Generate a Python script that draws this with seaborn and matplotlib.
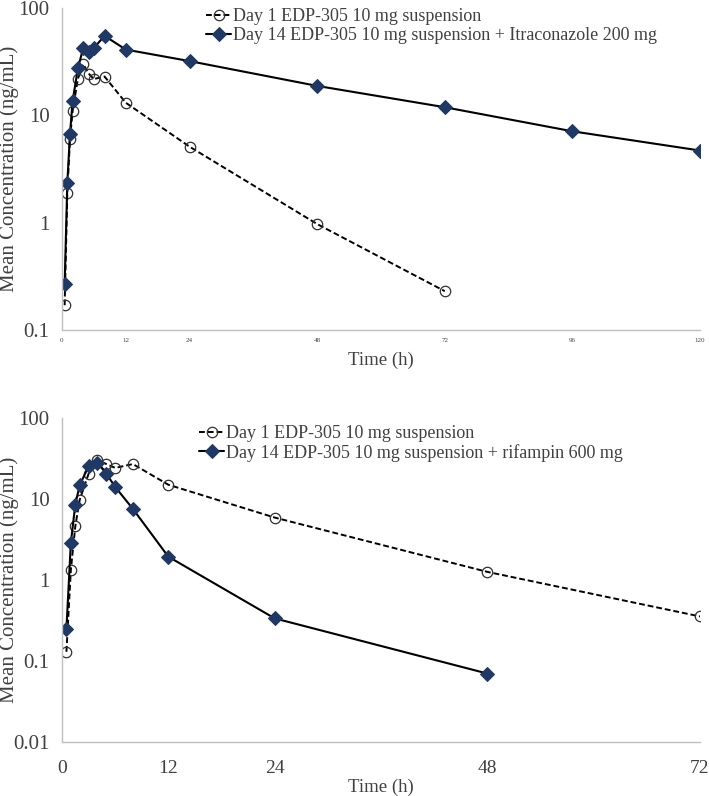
# Perfil PK de EDP-305: itraconazol (arriba) y rifampicina (abajo)
import matplotlib
matplotlib.use("Agg")
import matplotlib.pyplot as plt
import seaborn as sns
import numpy as np

# Datos -----------------------------------------------------
t_dia1_itra = [0.5, 1, 1.5, 2, 3, 4, 5, 6, 8, 12, 24, 48, 72]
c_dia1_itra = [0.17, 1.9, 6.0, 11, 22, 30, 24.5, 21.8, 23, 13.1, 5.1, 0.97, 0.23]

t_dia14_itra = [0.5, 1, 1.5, 2, 3, 4, 5, 6, 8, 12, 24, 48, 72, 96, 120]
c_dia14_itra = [0.27, 2.35, 6.7, 13.6, 27.5, 42.5, 39, 42.5, 55, 41, 32, 18.8, 11.9, 7.1, 4.7]

t_dia1_rif = [0.5, 1, 1.5, 2, 3, 4, 5, 6, 8, 12, 24, 48, 72]
c_dia1_rif = [0.13, 1.33, 4.6, 9.8, 20.5, 30.5, 27, 24.2, 27, 15, 5.9, 1.26, 0.355]

t_dia14_rif = [0.5, 1, 1.5, 2, 3, 4, 5, 6, 8, 12, 24, 48]
c_dia14_rif = [0.25, 2.9, 8.5, 14.9, 25.3, 27.9, 20.6, 14.1, 7.55, 1.94, 0.336, 0.07]

lbl_dia1 = "Day 1 EDP-305 10 mg suspension"
lbl_itra = "Day 14 EDP-305 10 mg suspension + Itraconazole 200 mg"
lbl_rif = "Day 14 EDP-305 10 mg suspension + rifampin 600 mg"

sns.set_style("white")
plt.rcParams['font.family'] = ['Liberation Serif', 'DejaVu Serif']

gris_eje = "#BFBFBF"
gris_txt = "#404040"
azul = "#1F3864"

fig = plt.figure(figsize=(7.09, 7.96), dpi=100)
ax1 = fig.add_axes([62/709, 1-330/796, 638/709, 322/796])
ax2 = fig.add_axes([62/709, 1-742/796, 638/709, 324/796])


def graficar(ax, t1, c1, t14, c14, lbl14):
    sns.lineplot(x=t1, y=c1, ax=ax, color="black", linestyle=(0, (3, 1.5)),
                 linewidth=1.4, marker="o", markersize=7.5,
                 markerfacecolor="none", markeredgecolor="#303030",
                 markeredgewidth=0.9, label=lbl_dia1)
    sns.lineplot(x=t14, y=c14, ax=ax, color="black", linewidth=1.5,
                 marker="D", markersize=7.5, markerfacecolor=azul,
                 markeredgecolor=azul, label=lbl14)
    ax.set_yscale("log")
    for s in ["top", "right"]:
        ax.spines[s].set_visible(False)
    for s in ["left", "bottom"]:
        ax.spines[s].set_color(gris_eje)
        ax.spines[s].set_linewidth(1.0)
    ax.yaxis.set_minor_locator(matplotlib.ticker.NullLocator())
    ax.tick_params(axis="y", which="major", direction="out", length=5,
                   color=gris_eje, labelsize=15, labelcolor=gris_txt, pad=4)
    ax.set_ylabel("Mean Concentration (ng/mL)", fontsize=15, color=gris_txt)
    ax.yaxis.set_label_coords(-0.068, 0.5)
    ax.set_xlabel("Time (h)", fontsize=13.5, color=gris_txt)
    leg = ax.legend(loc="upper left", frameon=False, fontsize=13,
                    handlelength=1.4, handletextpad=0.1, labelspacing=0.1,
                    borderpad=0, labelcolor=gris_txt)
    return leg


# Grafico superior: itraconazol ---------------------------
leg1 = graficar(ax1, t_dia1_itra, c_dia1_itra, t_dia14_itra, c_dia14_itra, lbl_itra)
leg1.set_bbox_to_anchor((197/709, 1/796 + 1), transform=fig.transFigure)
ax1.set_ylim(0.1, 100)
ax1.set_yticks([0.1, 1, 10, 100])
ax1.set_yticklabels(["0.1", "1", "10", "100"])
ax1.set_xlim(0, 120)
ax1.set_xticks(np.arange(0, 121, 6))
etq_top = {0: "0", 12: "12", 24: "24", 48: "48", 72: "72", 96: "96", 120: "120"}
ax1.set_xticklabels([etq_top.get(int(v), "") for v in np.arange(0, 121, 6)])
ax1.tick_params(axis="x", direction="out", length=3, color=gris_eje,
                labelsize=5, labelcolor=gris_txt, pad=3)
ax1.xaxis.labelpad = 6

# Grafico inferior: rifampicina ---------------------------
leg2 = graficar(ax2, t_dia1_rif, c_dia1_rif, t_dia14_rif, c_dia14_rif, lbl_rif)
leg2.set_bbox_to_anchor((190/709, 1-416/796), transform=fig.transFigure)
ax2.set_ylim(0.01, 100)
ax2.set_yticks([0.01, 0.1, 1, 10, 100])
ax2.set_yticklabels(["0.01", "0.1", "1", "10", "100"])
ax2.set_xlim(0, 72)
ax2.set_xticks([0, 12, 24, 48, 72])
ax2.set_xticklabels(["0", "12", "24", "48", "72"])
ax2.tick_params(axis="x", length=0, labelsize=14, labelcolor=gris_txt, pad=13)
ax2.xaxis.labelpad = 1

fig.savefig("out.png", dpi=100)
